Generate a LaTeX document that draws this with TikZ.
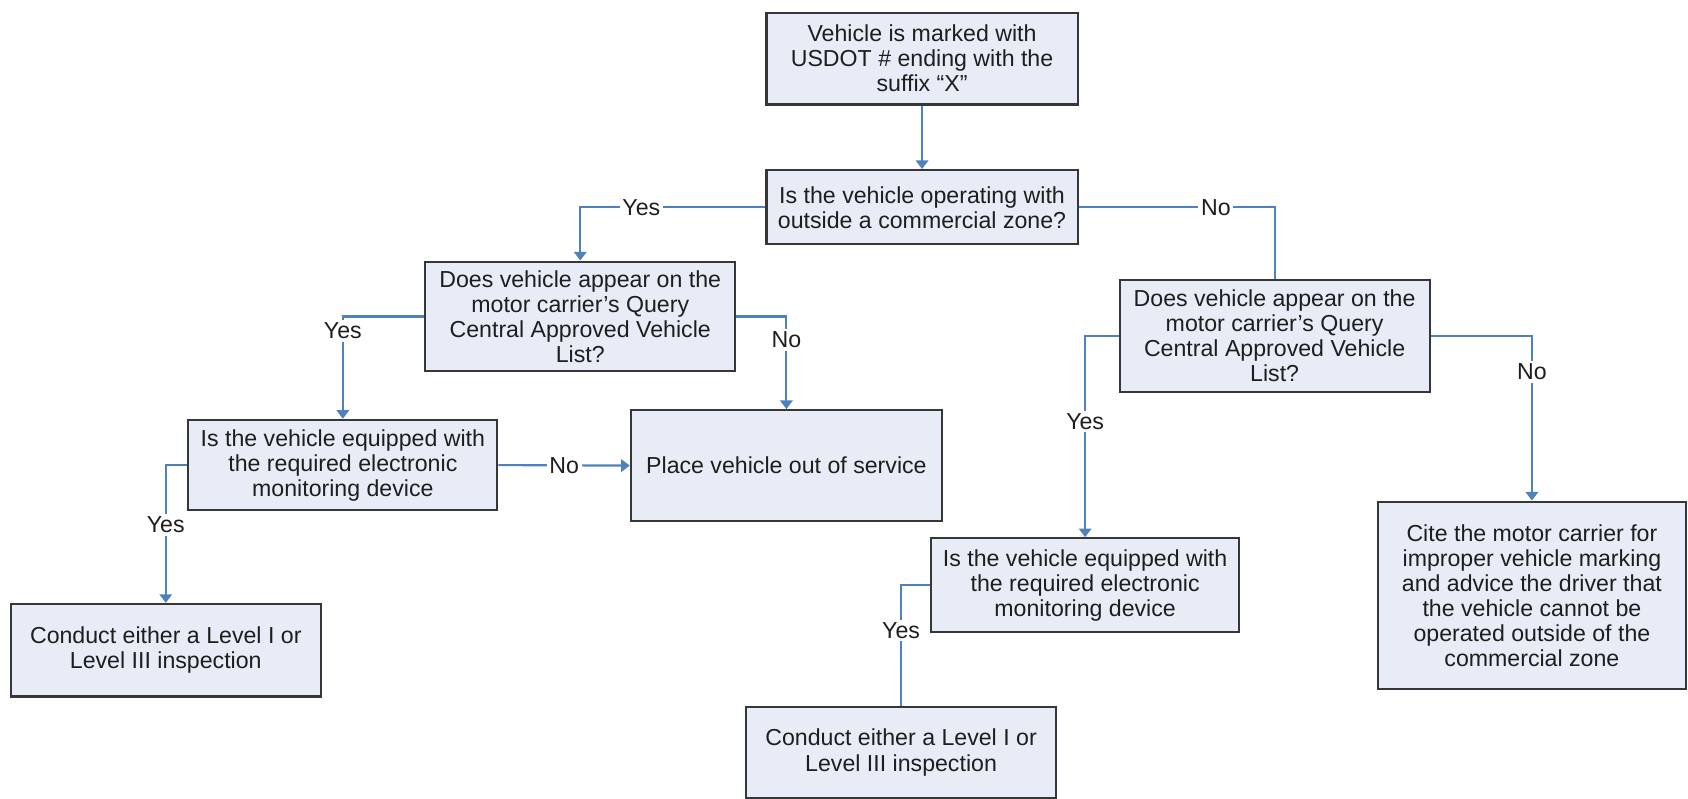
\documentclass[tikz,border=0pt]{standalone}
\usepackage{fontspec}
\setmainfont{Liberation Sans}
\usetikzlibrary{arrows.meta}
\definecolor{boxfill}{RGB}{231,236,247}
\definecolor{boxline}{RGB}{55,55,55}
\definecolor{connblue}{RGB}{79,129,189}
\definecolor{txt}{RGB}{30,30,30}
\begin{document}
\begin{tikzpicture}[x=0.4pt,y=-0.4pt,
  box/.style={draw=boxline, fill=boxfill, line width=0.8pt, align=center, inner sep=0pt,
    font=\fontsize{8.6}{9.3}\selectfont, text=txt},
  lbl/.style={fill=white, inner sep=1pt, font=\fontsize{8.6}{9.3}\selectfont, text=txt},
  link/.style={draw=connblue, line width=0.8pt},
  arr/.style={-{Triangle[width=4.6pt,length=3.2pt]}}]
\useasboundingbox (0,0) rectangle (1568,742);

\node[box, minimum width=115.6pt, minimum height=34pt] (top) at (856.5,54.5)
  {Vehicle is marked with\\USDOT \# ending with the\\suffix “X”};
\node[box, minimum width=115.6pt, minimum height=27.6pt] (q1) at (856.5,192.5)
  {Is the vehicle operating with\\outside a commercial zone?};
\node[box, minimum width=115.2pt, minimum height=40.8pt] (q2) at (539,294)
  {Does vehicle appear on the\\motor carrier’s Query\\Central Approved Vehicle\\List?};
\node[box, minimum width=115.2pt, minimum height=41.6pt] (q3) at (1184,312)
  {Does vehicle appear on the\\motor carrier’s Query\\Central Approved Vehicle\\List?};
\node[box, minimum width=114.8pt, minimum height=33.6pt] (q4) at (318.5,432)
  {Is the vehicle equipped with\\the required electronic\\monitoring device};
\node[box, minimum width=115.6pt, minimum height=41.2pt] (place) at (730.5,432.5)
  {Place vehicle out of service};
\node[box, minimum width=115.2pt, minimum height=34.4pt] (c1) at (154,604)
  {Conduct either a Level I or\\Level III inspection};
\node[box, minimum width=114.4pt, minimum height=34.8pt] (q5) at (1008,543.5)
  {Is the vehicle equipped with\\the required electronic\\monitoring device};
\node[box, minimum width=115.2pt, minimum height=33.6pt] (c2) at (837,699)
  {Conduct either a Level I or\\Level III inspection};
\node[box, minimum width=114.4pt, minimum height=69.6pt] (cite) at (1423,553)
  {Cite the motor carrier for\\improper vehicle marking\\and advice the driver that\\the vehicle cannot be\\operated outside of the\\commercial zone};

\draw[link,arr] (top) -- (q1);
\draw[link,arr] (q1.west) -| node[lbl,pos=0.335] {Yes} (q2.north);
\draw[link] (q1.east) -| node[lbl,pos=0.35] {No} (q3.north);
\draw[link,arr] (q2.west) -| node[lbl,pos=0.57] {Yes} (q4.north);
\draw[link,arr] (q2.east) -| node[lbl,pos=0.626] {No} (place.north);
\draw[link,arr] (q4.east) -- node[lbl,pos=0.5] {No} (place.west);
\draw[link,arr] (q4.west) -| node[lbl,pos=0.717] {Yes} (c1.north);
\draw[link,arr] (q3.west) -| node[lbl,pos=0.713] {Yes} (q5.north);
\draw[link,arr] (q3.east) -| node[lbl,pos=0.61] {No} (cite.north);
\draw[link] (q5.west) -| node[lbl,pos=0.687] {Yes} (c2.north);
\end{tikzpicture}
\end{document}
